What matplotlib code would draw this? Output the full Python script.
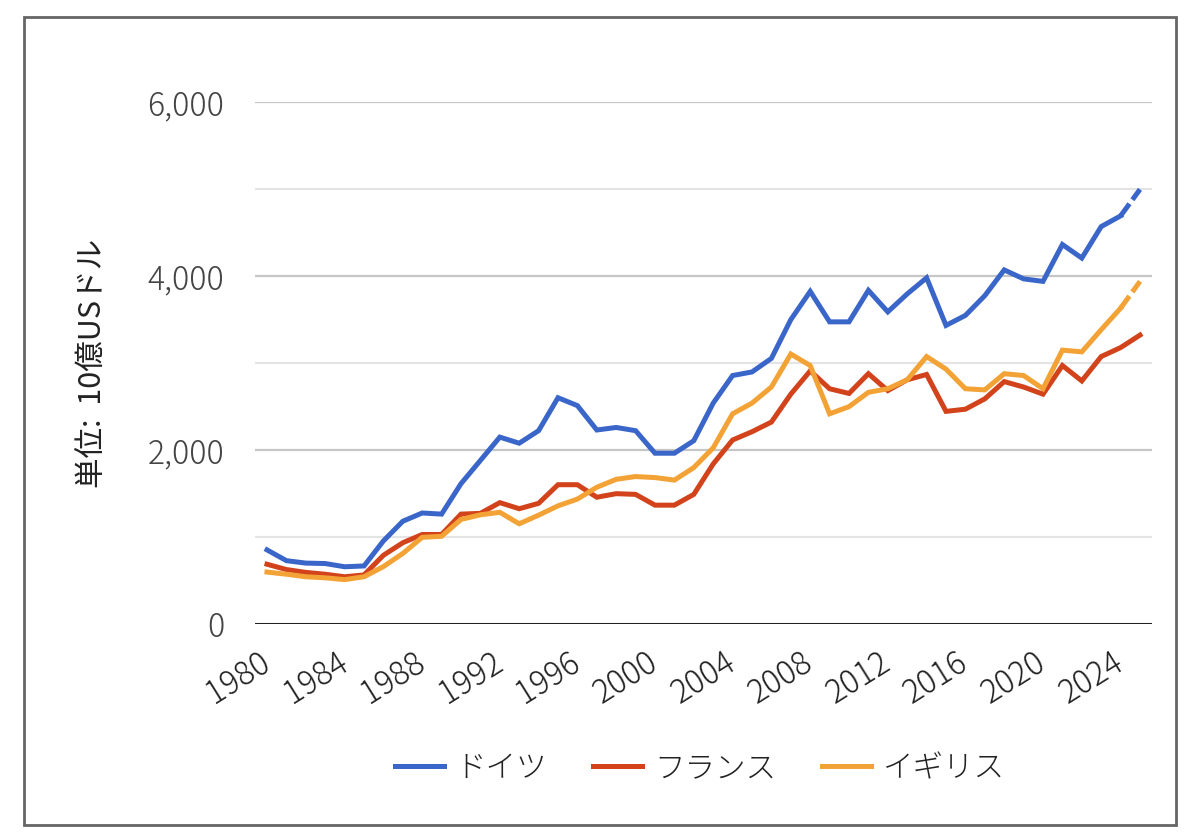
import matplotlib
matplotlib.use("Agg")
import matplotlib.pyplot as plt
from matplotlib.lines import Line2D
from matplotlib.patches import Rectangle

plt.rcParams['font.family'] = ['Noto Sans CJK JP', 'DejaVu Sans']
plt.rcParams['font.weight'] = 'light'

years = list(range(1980, 2026))
germany = [852, 728, 700, 695, 658, 667, 955, 1181, 1276, 1263,
           1613, 1880, 2148, 2078, 2222, 2601, 2510, 2230, 2259, 2222,
           1963, 1963, 2107, 2539, 2856, 2897, 3053, 3498, 3823, 3473,
           3473, 3835, 3588, 3794, 3979, 3432, 3547, 3774, 4070, 3967,
           3938, 4362, 4206, 4568, 4691, 4996]
france = [687, 626, 593, 572, 543, 564, 790, 934, 1029, 1029,
          1263, 1272, 1395, 1325, 1387, 1601, 1601, 1457, 1498, 1490,
          1366, 1366, 1490, 1840, 2115, 2210, 2321, 2642, 2909, 2704,
          2650, 2877, 2683, 2807, 2868, 2444, 2469, 2588, 2786, 2724,
          2642, 2971, 2794, 3074, 3177, 3321]
uk = [597, 572, 543, 531, 510, 543, 660, 811, 996, 1008,
      1202, 1255, 1284, 1152, 1251, 1358, 1436, 1572, 1663, 1695,
      1683, 1654, 1798, 2025, 2416, 2539, 2724, 3103, 2971, 2416,
      2498, 2663, 2704, 2807, 3074, 2930, 2704, 2691, 2877, 2856,
      2704, 3148, 3128, 3383, 3630, 3938]
series_names = ['ドイツ', 'フランス', 'イギリス']
colors = ['#3A66C9', '#D2431C', '#F3A236']
dashed_last = [True, False, True]
x_ticks = list(range(1980, 2025, 4))
y_ticks = [0, 2000, 4000, 6000]
y_minor = [1000, 3000, 5000]
y_label = '単位:  10億USドル'

fig = plt.figure(figsize=(11.99, 8.40), dpi=100)
ax = fig.add_axes([255/1199, 1-624/840, (1152-255)/1199, (624-102)/840])

for v in y_minor:
    ax.axhline(v, color='#e4e4e4', lw=1.5, zorder=0)
for v in y_ticks[1:]:
    ax.axhline(v, color='#c6c6c6', lw=1.6, zorder=0)

for vals, c, d in zip([germany, france, uk], colors, dashed_last):
    if d:
        ax.plot(years[:-1], vals[:-1], color=c, lw=3.6, solid_joinstyle='miter', zorder=3)
        ax.plot(years[-2:], vals[-2:], color=c, lw=3.6, dashes=[3, 1], zorder=3)
    else:
        ax.plot(years, vals, color=c, lw=3.6, solid_joinstyle='miter', zorder=3)

ax.axhline(0, color='#222222', lw=2.2, zorder=4)

ax.set_xlim(1980 - 12/19.4, 2025 + 12/19.4)
ax.set_ylim(0, 6000)
for s in ax.spines.values():
    s.set_visible(False)

ax.set_yticks(y_ticks)
ax.set_yticklabels([f'{v:,}' for v in y_ticks])
ax.set_xticks(x_ticks)
ax.set_xticklabels([str(v) for v in x_ticks])
ax.tick_params(axis='y', length=0, pad=22, labelsize=23, labelcolor='#444444')
ax.tick_params(axis='x', length=0, pad=26, labelsize=23, labelcolor='#222222')
for lab in ax.get_xticklabels():
    lab.set_rotation(32)
    lab.set_ha('right')
    lab.set_va('center')
    lab.set_rotation_mode('anchor')

ax.set_ylabel(y_label, fontsize=22, color='#222222', labelpad=28)

handles = [Line2D([0], [0], color=c, lw=3.6) for c in colors]
fig.legend(handles, series_names, loc='center', bbox_to_anchor=(700/1199, 1-768/840),
           ncol=3, frameon=False, fontsize=22, handlelength=1.6, handletextpad=0.4,
           columnspacing=1.5, labelcolor='#222222')

fig.patches.append(Rectangle((24/1199, 1-825/840), (1176-24)/1199, (825-17)/840,
                             transform=fig.transFigure, fill=False, edgecolor='#666666', lw=2))

fig.savefig('out.png', dpi=100)
